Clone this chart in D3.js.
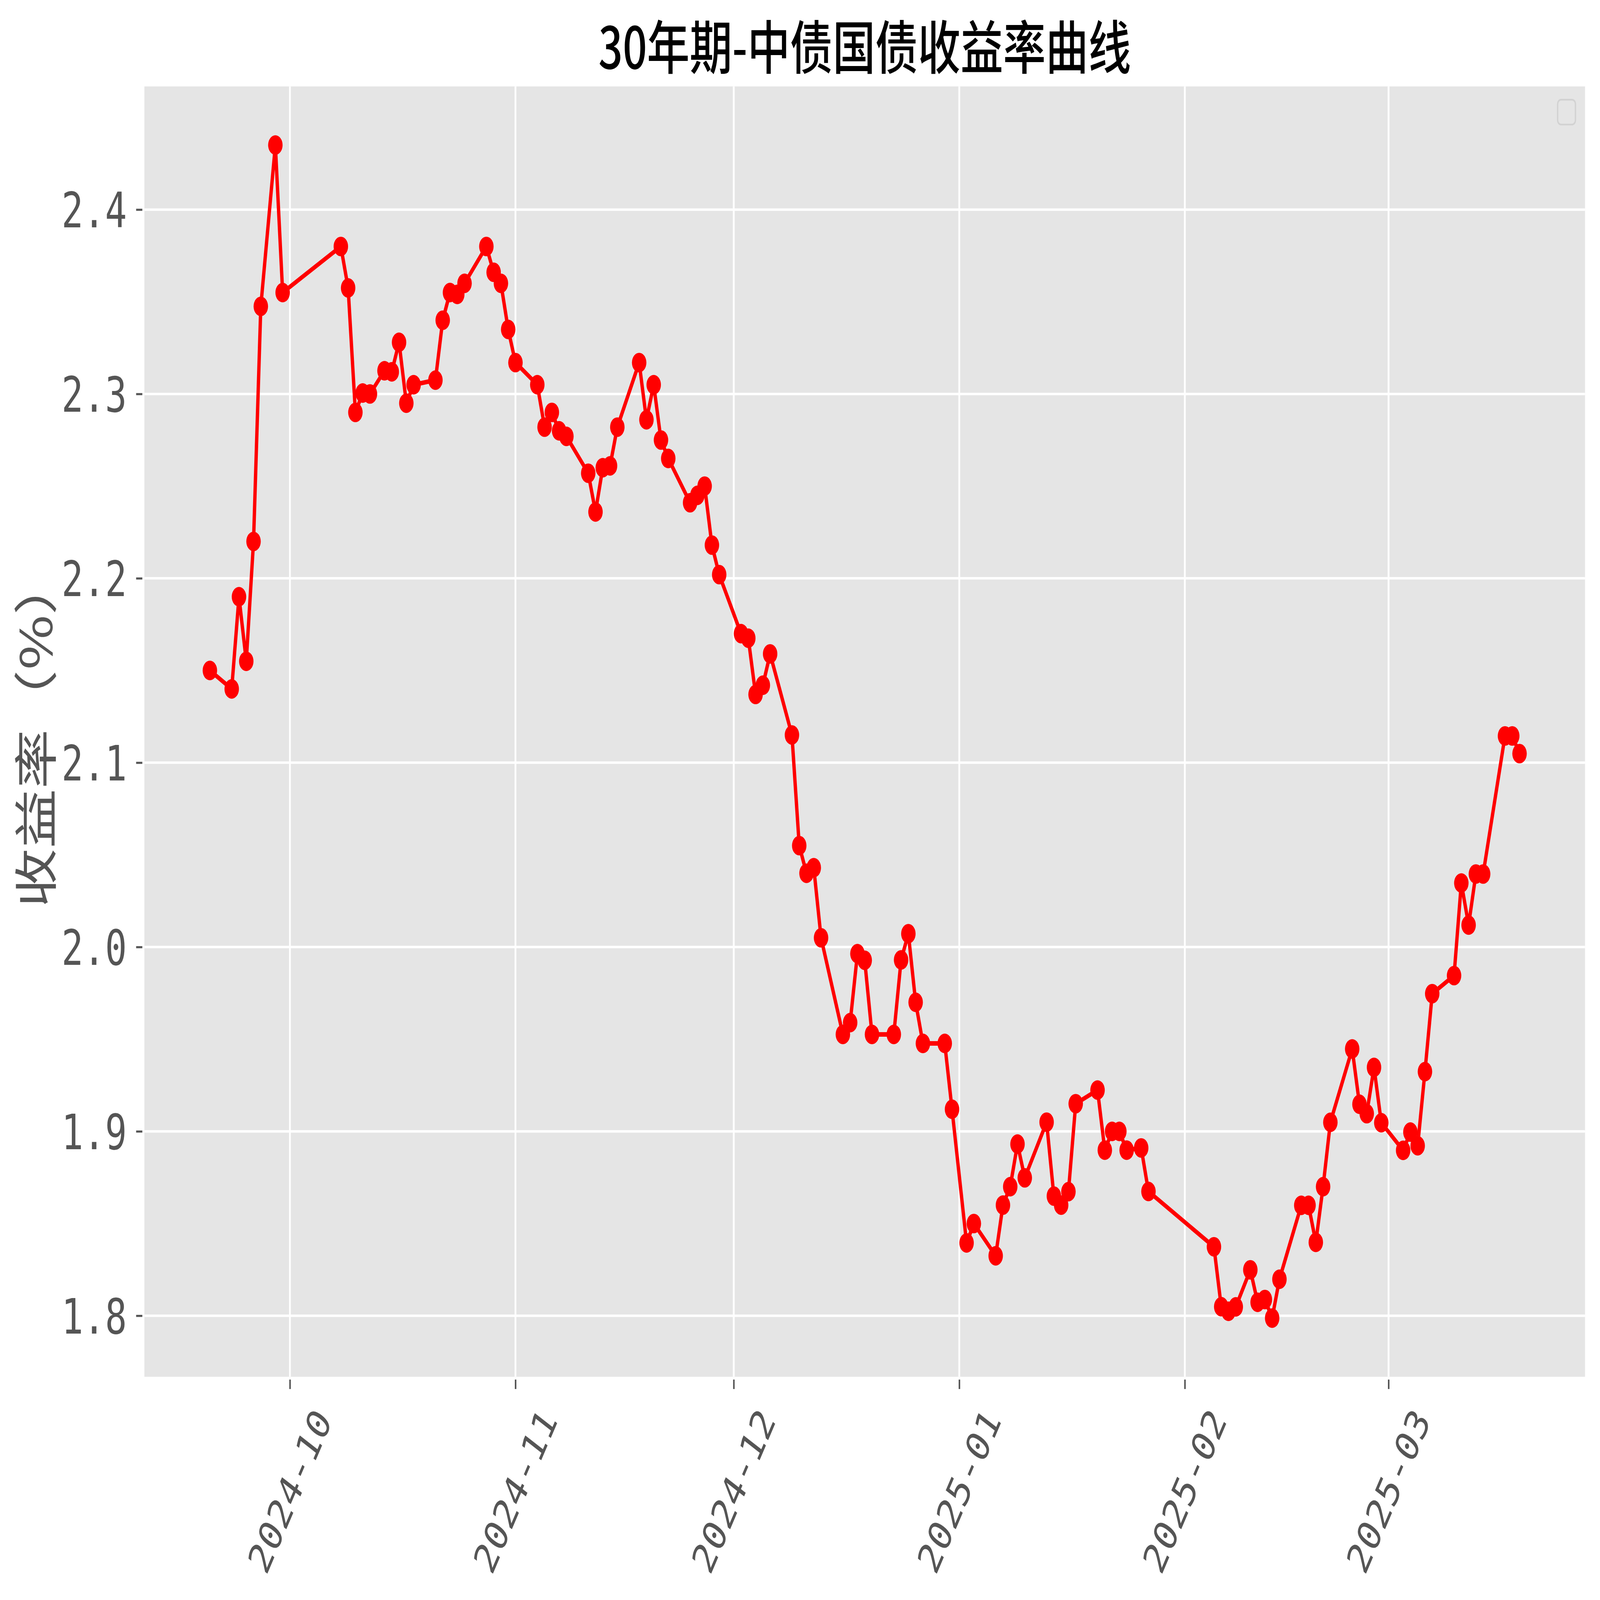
<!DOCTYPE html>
<html>
<head>
<meta charset="utf-8">
<script src="https://cdn.jsdelivr.net/npm/d3@7/dist/d3.min.js"></script>
<style>
  html, body { margin: 0; padding: 0; background: #fff; overflow: hidden; }
  .chart-yield svg { display: block; }
</style>
</head>
<body>
<div class="chart-yield"></div>
<script>
// 30年期国债收益率 (%), 按交易日
const dates = [
  '2024-09-20', '2024-09-23', '2024-09-24', '2024-09-25', '2024-09-26', '2024-09-27', '2024-09-29', '2024-09-30',
  '2024-10-08', '2024-10-09', '2024-10-10', '2024-10-11', '2024-10-12', '2024-10-14', '2024-10-15', '2024-10-16',
  '2024-10-17', '2024-10-18', '2024-10-21', '2024-10-22', '2024-10-23', '2024-10-24', '2024-10-25', '2024-10-28',
  '2024-10-29', '2024-10-30', '2024-10-31', '2024-11-01', '2024-11-04', '2024-11-05', '2024-11-06', '2024-11-07',
  '2024-11-08', '2024-11-11', '2024-11-12', '2024-11-13', '2024-11-14', '2024-11-15', '2024-11-18', '2024-11-19',
  '2024-11-20', '2024-11-21', '2024-11-22', '2024-11-25', '2024-11-26', '2024-11-27', '2024-11-28', '2024-11-29',
  '2024-12-02', '2024-12-03', '2024-12-04', '2024-12-05', '2024-12-06', '2024-12-09', '2024-12-10', '2024-12-11',
  '2024-12-12', '2024-12-13', '2024-12-16', '2024-12-17', '2024-12-18', '2024-12-19', '2024-12-20', '2024-12-23',
  '2024-12-24', '2024-12-25', '2024-12-26', '2024-12-27', '2024-12-30', '2024-12-31', '2025-01-02', '2025-01-03',
  '2025-01-06', '2025-01-07', '2025-01-08', '2025-01-09', '2025-01-10', '2025-01-13', '2025-01-14', '2025-01-15',
  '2025-01-16', '2025-01-17', '2025-01-20', '2025-01-21', '2025-01-22', '2025-01-23', '2025-01-24', '2025-01-26',
  '2025-01-27', '2025-02-05', '2025-02-06', '2025-02-07', '2025-02-08', '2025-02-10', '2025-02-11', '2025-02-12',
  '2025-02-13', '2025-02-14', '2025-02-17', '2025-02-18', '2025-02-19', '2025-02-20', '2025-02-21', '2025-02-24',
  '2025-02-25', '2025-02-26', '2025-02-27', '2025-02-28', '2025-03-03', '2025-03-04', '2025-03-05', '2025-03-06',
  '2025-03-07', '2025-03-10', '2025-03-11', '2025-03-12', '2025-03-13', '2025-03-14', '2025-03-17', '2025-03-18',
  '2025-03-19'
]

const yields = [
  2.150, 2.140, 2.190, 2.155, 2.220, 2.3475, 2.435, 2.355,
  2.380, 2.3575, 2.290, 2.3005, 2.300, 2.3126, 2.312, 2.328,
  2.295, 2.305, 2.3075, 2.340, 2.355, 2.354, 2.360, 2.380,
  2.366, 2.360, 2.335, 2.317, 2.305, 2.282, 2.290, 2.280,
  2.277, 2.257, 2.236, 2.260, 2.261, 2.282, 2.317, 2.286,
  2.305, 2.275, 2.265, 2.241, 2.245, 2.250, 2.218, 2.202,
  2.170, 2.1675, 2.137, 2.142, 2.159, 2.115, 2.055, 2.040,
  2.043, 2.005, 1.9526, 1.959, 1.9964, 1.9928, 1.9526, 1.9526,
  1.993, 2.0072, 1.970, 1.9477, 1.9477, 1.912, 1.8395, 1.850,
  1.8325, 1.860, 1.870, 1.8931, 1.8748, 1.905, 1.8649, 1.860,
  1.8673, 1.915, 1.9224, 1.8898, 1.900, 1.900, 1.8898, 1.891,
  1.8674, 1.8374, 1.8049, 1.8024, 1.8048, 1.8249, 1.8073, 1.8088,
  1.7987, 1.8198, 1.8599, 1.8599, 1.8398, 1.870, 1.9049, 1.9447,
  1.9147, 1.9096, 1.9347, 1.9047, 1.8897, 1.8996, 1.8922, 1.9324,
  1.9747, 1.9845, 2.0347, 2.0119, 2.0396, 2.0396, 2.1145, 2.1145,
  2.1049
]

const yTicks = [1.8, 1.9, 2.0, 2.1, 2.2, 2.3, 2.4]
const xTickLabels = ['2024-10', '2024-11', '2024-12', '2025-01', '2025-02', '2025-03']

const chartTitle = '30年期-中债国债收益率曲线'
const yLabel = '收益率（%）'

const w = 6194
const h = 4573
const margin = { top: 247, right: 58, bottom: 638, left: 559 }
const innerW = w - margin.left - margin.right
const innerH = h - margin.top - margin.bottom

const parseDate = d3.timeParse('%Y-%m-%d')
const parseMonth = d3.timeParse('%Y-%m')

const dataz = dates.map((d, i) => ({ date: parseDate(d), value: yields[i] }))

// matplotlib style 5% margins
const pad = (lo, hi) => {
  const m = (hi - lo) * 0.05
  return [lo - m, hi + m]
}

const [t0, t1] = d3.extent(dataz, d => d.date)
const xDomain = pad(+t0, +t1).map(t => new Date(t))
const [v0, v1] = d3.extent(dataz, d => d.value)

const x = d3.scaleTime().domain(xDomain).range([0, innerW])
const y = d3.scaleLinear().domain(pad(v0, v1)).range([innerH, 0])

// drawn in 6194x4573 units, scaled to whatever the window really is
const svg = d3.select('.chart-yield')
  .append('svg')
  .attr('viewBox', `0 0 ${w} ${h}`)
  .attr('preserveAspectRatio', 'none')
  .style('width', '100vw')
  .style('height', '100vh')

svg.append('rect')
  .attr('width', w)
  .attr('height', h)
  .attr('fill', '#ffffff')

const g = svg.append('g')
  .attr('transform', `translate(${margin.left},${margin.top})`)

g.append('rect')
  .attr('width', innerW)
  .attr('height', innerH)
  .attr('fill', '#e5e5e5')

const xTicks = xTickLabels.map(parseMonth)

// grid
g.selectAll('.grid-y')
  .data(yTicks)
  .enter()
  .append('line')
  .attr('class', 'grid-y')
  .attr('x1', 0)
  .attr('x2', innerW)
  .attr('y1', d => y(d))
  .attr('y2', d => y(d))
  .attr('stroke', '#ffffff')
  .attr('stroke-width', 7)

g.selectAll('.grid-x')
  .data(xTicks)
  .enter()
  .append('line')
  .attr('class', 'grid-x')
  .attr('x1', d => x(d))
  .attr('x2', d => x(d))
  .attr('y1', 0)
  .attr('y2', innerH)
  .attr('stroke', '#ffffff')
  .attr('stroke-width', 7)

// axes
const xAxis = d3.axisBottom(x)
  .tickValues(xTicks)
  .tickFormat(d3.timeFormat('%Y-%m'))
  .tickSize(27)
  .tickPadding(0)

const gx = g.append('g')
  .attr('transform', `translate(0,${innerH + 8})`)
  .call(xAxis)

gx.select('.domain').remove()
gx.selectAll('.tick line')
  .attr('stroke', '#555555')
  .attr('stroke-width', 6)
gx.selectAll('.tick text')
  .attr('fill', '#555555')
  .attr('font-family', '"DejaVu Sans Mono", "Liberation Mono", monospace')
  .attr('font-size', 122)
  .attr('text-anchor', 'middle')
  .attr('dominant-baseline', 'central')
  .attr('y', 0)
  .attr('dy', 0)
  .attr('transform', 'translate(0,319) rotate(-60)')

const yAxis = d3.axisLeft(y)
  .tickValues(yTicks)
  .tickFormat(d3.format('.1f'))
  .tickSize(24)
  .tickPadding(36)

const gy = g.append('g')
  .attr('transform', 'translate(-8,0)')
  .call(yAxis)

gy.select('.domain').remove()
gy.selectAll('.tick line')
  .attr('stroke', '#555555')
  .attr('stroke-width', 6)
gy.selectAll('.tick text')
  .attr('fill', '#555555')
  .attr('font-family', '"DejaVu Sans Mono", "Liberation Mono", monospace')
  .attr('font-size', 140)
  .attr('dy', '0.36em')

// line + markers
const line = d3.line()
  .x(d => x(d.date))
  .y(d => y(d.value))

g.append('path')
  .datum(dataz)
  .attr('d', line)
  .attr('fill', 'none')
  .attr('stroke', '#ff0000')
  .attr('stroke-width', 13)
  .attr('stroke-linejoin', 'round')

g.selectAll('.dot')
  .data(dataz)
  .enter()
  .append('circle')
  .attr('class', 'dot')
  .attr('cx', d => x(d.date))
  .attr('cy', d => y(d.value))
  .attr('r', 28)
  .attr('fill', '#ff0000')

// empty legend frame (no labelled series)
g.append('rect')
  .attr('x', innerW - 106)
  .attr('y', 38)
  .attr('width', 69)
  .attr('height', 71)
  .attr('rx', 13)
  .attr('fill', '#e5e5e5')
  .attr('stroke', '#d2d2d2')
  .attr('stroke-width', 5)

// title + y label
svg.append('text')
  .attr('x', margin.left + innerW / 2)
  .attr('y', 197)
  .attr('text-anchor', 'middle')
  .attr('font-family', '"Noto Sans CJK SC", sans-serif')
  .attr('font-weight', 500)
  .attr('font-size', 165)
  .attr('fill', '#000000')
  .text(chartTitle)

svg.append('text')
  .attr('transform', `translate(202,${margin.top + innerH / 2}) rotate(-90)`)
  .attr('text-anchor', 'middle')
  .attr('font-family', '"Noto Sans CJK SC", sans-serif')
  .attr('font-size', 170)
  .attr('fill', '#555555')
  .text(yLabel)
</script>
</body>
</html>
